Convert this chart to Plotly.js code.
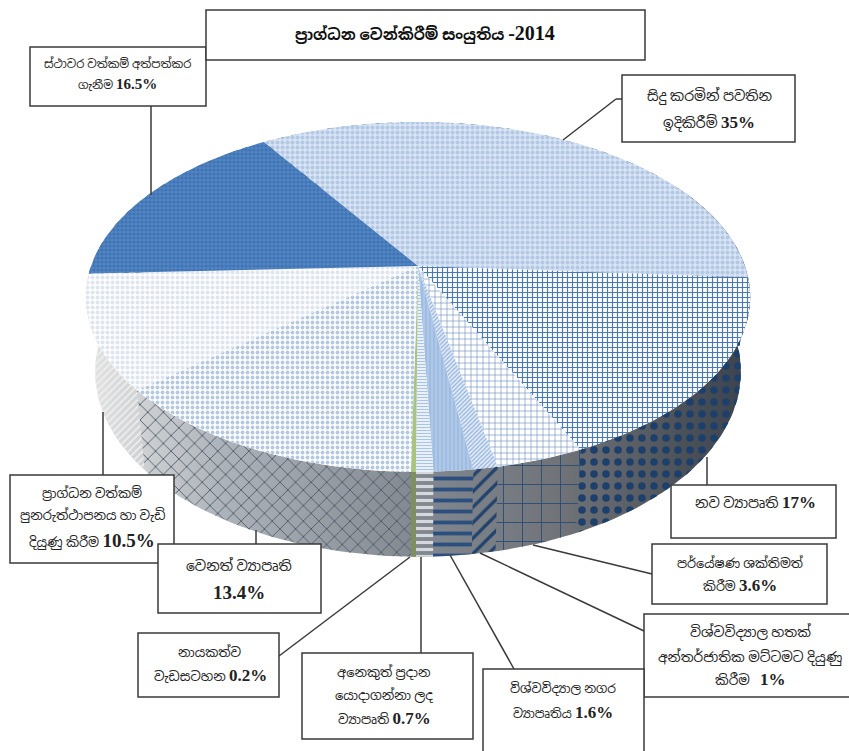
<!DOCTYPE html>
<html>
<head>
<meta charset="utf-8">
<script src="https://cdn.plot.ly/plotly-3.0.1.min.js"></script>
<style>html,body{margin:0;padding:0;background:#fff}#chart{width:849px;height:751px}</style>
</head>
<body>
<div id="chart"></div>
<script>
// ---------- data, clockwise from the far edge of the pie ----------
const titleText = 'ප්‍රාග්ධන වෙන්කිරීම් සංයුතිය';
const titleYear = '-2014';
const categories = [
  'සිදු කරමින් පවතින|ඉදිකිරීම්',
  'නව ව්‍යාපෘති',
  'පර්යේෂණ ශක්තිමත්|කිරීම',
  'විශ්වවිද්‍යාල හතක්|අන්තර්ජාතික මට්ටමට දියුණු|කිරීම  ',
  'විශ්වවිද්‍යාල නගර|ව්‍යාපෘතිය',
  'අනෙකුත් ප්‍රදාන|යොදාගන්නා ලද|ව්‍යාපෘති',
  'නායකත්ව|වැඩසටහන',
  'වෙනත් ව්‍යාපෘති|',
  'ප්‍රාග්ධන වත්කම්|පුනරුත්ථාපනය හා වැඩි|දියුණු කිරීම',
  'ස්ථාවර වත්කම් අත්පත්කර|ගැනීම'
];
const values = [35, 17, 3.6, 1, 1.6, 0.7, 0.2, 13.4, 10.5, 16.5];

// ---------- styles per slice ----------
const topStyles = [
  {shape:'.', fg:'#b3c8e4', bg:'#d8e4f3', size:5, solidity:0.5},
  {shape:'+', fg:'#4a7ab5', bg:'#ffffff', size:5, solidity:0.42},
  {shape:'+', fg:'#6f8fbb', bg:'#ffffff', size:6, solidity:0.2},
  {shape:'/', fg:'#8fb0da', bg:'#e4ecf7', size:3, solidity:0.4},
  {shape:'|', fg:'#9dbbe0', bg:'#aec8e8', size:4, solidity:0.4},
  {shape:'-', fg:'#a8c3e4', bg:'#ffffff', size:3, solidity:0.5},
  {shape:'',  fg:'#a9c47f', bg:'#a9c47f', size:4, solidity:0.5},
  {shape:'.', fg:'#b4c8e0', bg:'#ffffff', size:5, solidity:0.45},
  {shape:'.', fg:'#dfe5ee', bg:'#ffffff', size:5, solidity:0.5},
  {shape:'.', fg:'#4173b3', bg:'#5084c2', size:4, solidity:0.5}
];
const sideStyles = [
  {shape:'.', fg:'#1f4470', size:12, solidity:0.3},
  {shape:'.', fg:'#1c3f6c', size:12, solidity:0.32},
  {shape:'+', fg:'#2f4f74', size:19, solidity:0.1},
  {shape:'/', fg:'#23436e', size:11, solidity:0.3},
  {shape:'-', fg:'#2b5080', size:11, solidity:0.35},
  {shape:'-', fg:'#d5d8dc', size:7,  solidity:0.45},
  {shape:'',  fg:'#7f8f5f', size:4,  solidity:0.5, solid:'#7f8f5f'},
  {shape:'x', fg:'#4a5664', size:11, solidity:0.15},
  {shape:'/', fg:'#f0f0f0', size:5,  solidity:0.3},
  {shape:'.', fg:'#1f4470', size:12, solidity:0.3}
];

// ---------- the tilted disc: a perspective view of a unit circle ----------
const centre = {x:418, y:266}, tilt = -0.177, halfW = 327, halfH = 169.5;
const depth = 73, lowerX = 0.972, lowerY = 1.057, startDeg = -32.8;
function pt(deg, lower){
  const r = deg*Math.PI/180, u = Math.sin(r), v = -Math.cos(r), d = 1 + tilt*v;
  return [centre.x + (lower?lowerX:1)*halfW*u/d, centre.y + (lower?depth:0) + (lower?lowerY:1)*halfH*v/d];
}
function arc(a, b, lower){
  const n = Math.max(2, Math.ceil(Math.abs(b-a)/1.5)), p = [];
  for(let i=0;i<=n;i++) p.push(pt(a+(b-a)*i/n, lower));
  return p;
}
const total = values.reduce((s,v)=>s+v,0);
let cursor = startDeg;
const spans = values.map(v=>{const a=cursor; cursor+=v/total*360; return [a,cursor];});

function polyTrace(points, extra){
  return Object.assign({type:'scatter', mode:'lines', x:points.map(p=>p[0]), y:points.map(p=>p[1]),
    fill:'toself', line:{width:0}, hoverinfo:'skip', showlegend:false}, extra);
}
const traces = [];
// shaded wall under the patterns
const wall = arc(60,300,false).concat(arc(300,60,true));
traces.push(polyTrace(wall, {fillgradient:{type:'horizontal', colorscale:[
  [0,'#e4e4e4'],[0.08,'#d0d2d4'],[0.2,'#aeb4bb'],[0.5,'#828890'],[0.72,'#6f7378'],[0.9,'#4c5158'],[1,'#39424e']]}}));
// wall patterns
spans.forEach(([a,b],i)=>{
  const s = sideStyles[i];
  const pts = arc(a,b,false).concat(arc(b,a,true));
  const extra = s.solid ? {fillcolor:s.solid} : {fillcolor:'rgba(0,0,0,0)',
    fillpattern:{shape:s.shape, fgcolor:s.fg, bgcolor:'rgba(0,0,0,0)', size:s.size, solidity:s.solidity}};
  traces.push(polyTrace(pts, extra));
});
// top face
spans.forEach(([a,b],i)=>{
  const s = topStyles[i];
  const pts = [[centre.x,centre.y]].concat(arc(a,b,false));
  pts.push([centre.x,centre.y]);
  const extra = s.shape ? {fillcolor:s.bg, fillpattern:{shape:s.shape, fgcolor:s.fg, bgcolor:s.bg, size:s.size, solidity:s.solidity}}
                        : {fillcolor:s.bg};
  traces.push(polyTrace(pts, extra));
});

// ---------- callouts (same order as the data) ----------
const boxes = [
  {r:[622,75,795,142], cx:709, ys:[96,122], fs:14, vs:17, lead:[[622,99],[616,99],[563,140]]},
  {r:[671,485,836,538], cx:755, ys:[502], fs:14, vs:17, lead:[[707,457],[707,485]]},
  {r:[652,544,827,604], cx:740, ys:[563,585], fs:12.8, vs:17, lead:[[533,545],[652,574]]},
  {r:[644,614,852,697], cx:750, ys:[632,657,679], fs:13.6, vs:17, lead:[[480,553],[644,631]]},
  {r:[483,669,644,760], cx:563, ys:[688,712], fs:12.4, vs:17, lead:[[450,555],[514,669]]},
  {r:[302,653,473,739], cx:384, ys:[672,695,718], fs:13, vs:17, lead:[[421,557],[421,653]]},
  {r:[138,633,279,697], cx:210, ys:[652,675], fs:13, vs:17, lead:[[410,557],[279,656]]},
  {r:[158,544,321,613], cx:239, ys:[565,592], fs:14, vs:19, lead:[[256,530],[256,544]]},
  {r:[10,475,174,563], cx:92, ys:[493,515,540], fs:13, vs:19, lead:[[103,412],[103,475]]},
  {r:[30,47,206,106], cx:117, ys:[63,84], fs:11.6, vs:15, lead:[[151,106],[151,195]]}
];
const titleBox = [206,10,645,60];
const edge = {color:'#3a3a3a', width:1.5};
const shapes = [], annotations = [];
const order = [0,1,2,3,4,5,6,8,7,9];
order.forEach(i=>{
  const b = boxes[i];
  for(let k=1;k<b.lead.length;k++) shapes.push({type:'line', layer:'above', xref:'x', yref:'y',
    x0:b.lead[k-1][0], y0:b.lead[k-1][1], x1:b.lead[k][0], y1:b.lead[k][1], line:edge});
});
order.forEach(i=>{
  const b = boxes[i];
  shapes.push({type:'rect', layer:'above', xref:'x', yref:'y', x0:b.r[0], y0:b.r[1], x1:b.r[2], y1:b.r[3],
    fillcolor:'#ffffff', line:edge});
});
shapes.push({type:'rect', layer:'above', xref:'x', yref:'y', x0:titleBox[0], y0:titleBox[1], x1:titleBox[2], y1:titleBox[3],
  fillcolor:'#ffffff', line:edge});

const serif = '"Liberation Serif","Noto Sans Sinhala","Noto Sans",serif';
categories.forEach((c,i)=>{
  const lines = c.split('|'), b = boxes[i];
  lines.forEach((ln,k)=>{
    const last = k === lines.length-1;
    const pct = '<span style="font-size:'+b.vs+'px"><b>'+values[i]+'%</b></span>';
    annotations.push({xref:'x', yref:'y', x:b.cx, y:b.ys[k], showarrow:false, xanchor:'center', yanchor:'middle',
      text:(ln ? ln+(last?' ':'') : '')+(last?pct:''), font:{family:serif, size:b.fs, color:'#222222'}});
  });
});
annotations.push({xref:'x', yref:'y', x:425, y:33, showarrow:false, xanchor:'center', yanchor:'middle',
  text:'<b>'+titleText+' <span style="font-size:20px">'+titleYear+'</span></b>', font:{family:serif, size:15.3, color:'#111111'}});

Plotly.newPlot('chart', traces, {
  width:849, height:751, margin:{l:0,r:0,t:0,b:0}, paper_bgcolor:'#ffffff', plot_bgcolor:'#ffffff',
  xaxis:{range:[0,849], visible:false, fixedrange:true},
  yaxis:{range:[751,0], visible:false, fixedrange:true},
  shapes:shapes, annotations:annotations, showlegend:false, hovermode:false
}, {displayModeBar:false, staticPlot:true});
</script>
</body>
</html>
